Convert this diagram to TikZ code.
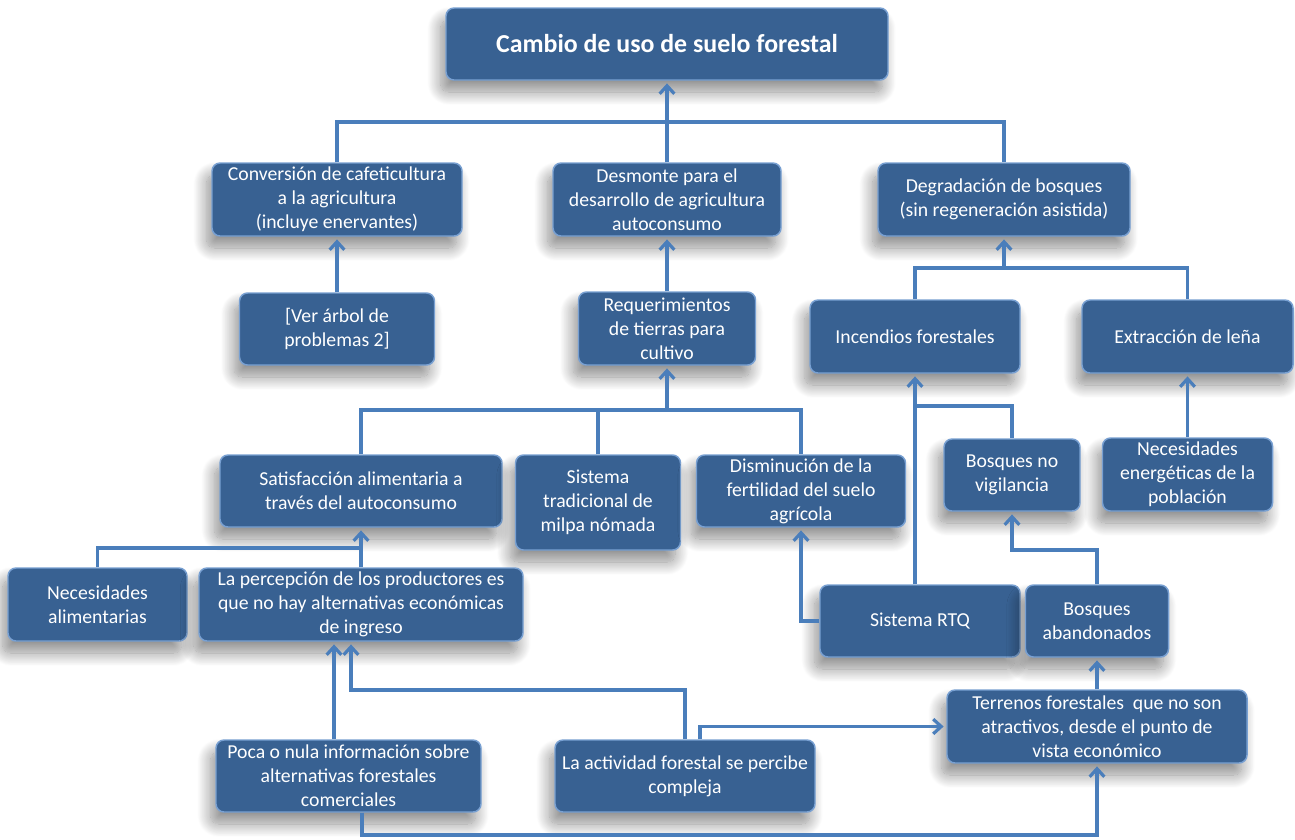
\documentclass[tikz,border=0pt]{standalone}
\usepackage{fontspec}
\setmainfont{Carlito}
\usetikzlibrary{arrows.meta,calc,shadows.blur}
\definecolor{boxblue}{RGB}{56,97,146}
\definecolor{boxedge}{RGB}{120,160,210}
\definecolor{lineblue}{RGB}{74,126,187}
\tikzset{
  box/.style={rectangle, rounded corners=6pt, fill=boxblue, draw=boxedge, line width=1.1pt,
    text=white, align=center, inner sep=1pt,
    font=\fontsize{14.8}{18}\selectfont,
    blur shadow={shadow xshift=-4pt, shadow yshift=-9pt, shadow blur radius=10pt, shadow opacity=45, shadow blur steps=20}},
  sz/.style 2 args={minimum width=#1*0.75pt, minimum height=#2*0.75pt},
  ln/.style={draw=lineblue, line width=2.4pt},
  arr/.style={ln, -{Straight Barb[length=6pt,width=11pt]}, shorten >=2pt}
}
\begin{document}
\begin{tikzpicture}[x=0.75pt,y=-0.75pt]
\useasboundingbox (0,0) rectangle (1295,839);
% nodes
\node[box,sz={442}{72},font=\bfseries\fontsize{19.4}{23}\selectfont] (title) at (667,44) {Cambio de uso de suelo forestal};
\node[box,sz={250}{73}] (conv) at (337,199.5) {Conversión de cafeticultura\\a la agricultura\\(incluye enervantes)};
\node[box,sz={228}{73}] (desm) at (667,199.5) {Desmonte para el\\desarrollo de agricultura\\autoconsumo};
\node[box,sz={252}{73}] (degr) at (1004,199.5) {Degradación de bosques\\(sin regeneración asistida)};
\node[box,sz={195}{72}] (ver) at (337,329) {[Ver árbol de\\problemas 2]};
\node[box,sz={177}{73}] (req) at (667,328.5) {Requerimientos\\de tierras para\\cultivo};
\node[box,sz={210}{73}] (inc) at (915,336.5) {Incendios forestales};
\node[box,sz={211}{73}] (ext) at (1187.5,336.5) {Extracción de leña};
\node[box,sz={282}{72}] (sat) at (361,491) {Satisfacción alimentaria a\\través del autoconsumo};
\node[box,sz={165}{95}] (mil) at (598,502.5) {Sistema\\tradicional de\\milpa nómada};
\node[box,sz={209}{72}] (dis) at (801,491) {Disminución de la\\fertilidad del suelo\\agrícola};
\node[box,sz={136}{72}] (bnv) at (1012,475) {Bosques no\\vigilancia};
\node[box,sz={170}{73}] (nen) at (1187.5,474.5) {Necesidades\\energéticas de la\\población};
\node[box,sz={179}{73}] (nal) at (97.5,604.5) {Necesidades\\alimentarias};
\node[box,sz={324}{73}] (per) at (361,604.5) {La percepción de los productores es\\que no hay alternativas económicas\\de ingreso};
\node[box,sz={200}{72}] (rtq) at (920,621) {Sistema RTQ};
\node[box,sz={143}{72}] (bab) at (1097,621) {Bosques\\abandonados};
\node[box,sz={300}{73}] (ter) at (1097,726.5) {Terrenos forestales\ \ que no son\\atractivos, desde el punto de\\vista económico};
\node[box,sz={265}{72}] (poc) at (348.5,776) {Poca o nula información sobre\\alternativas forestales\\comerciales};
\node[box,sz={260}{72}] (act) at (685,776) {La actividad forestal se percibe\\compleja};
% helper coordinates
\coordinate (bar1) at (0,122);
\coordinate (bar2) at (0,268);
\coordinate (bar3) at (0,410);
\coordinate (bar4) at (0,406);
\coordinate (bar5) at (0,550);
\coordinate (bar6) at (0,548);
\coordinate (bar7) at (0,690);
\coordinate (bar8) at (0,835);
\coordinate (xa) at (334,0);
\coordinate (xb) at (351,0);
\coordinate (xc) at (700,0);
\coordinate (xd) at (362,0);
% connectors
\draw[ln] (conv.north) -- (conv.north |- bar1) -- (degr.north |- bar1) -- (degr.north);
\draw[arr] (desm.north) -- (title.south);
\draw[arr] (ver.north) -- (conv.south);
\draw[arr] (req.north) -- (desm.south);
\draw[ln] (inc.north) -- (inc.north |- bar2) -- (ext.north |- bar2) -- (ext.north);
\draw[arr] (degr.south |- bar2) -- (degr.south);
\draw[ln] (sat.north) -- (sat.north |- bar3) -- (dis.north |- bar3) -- (dis.north);
\draw[ln] (mil.north) -- (mil.north |- bar3);
\draw[arr] (req.south |- bar3) -- (req.south);
\draw[arr] (inc.south |- rtq.north) -- (inc.south);
\draw[ln] (inc.south |- bar4) -| (bnv.north);
\draw[arr] (nen.north) -- (ext.south);
\draw[arr] (bab.north) -- (bab.north |- bar5) -- (bnv.south |- bar5) -- (bnv.south);
\draw[arr] (rtq.west) -| (dis.south);
\draw[arr] (per.north) -- (sat.south);
\draw[ln] (nal.north) |- (sat.south |- bar6);
\draw[arr] (poc.north -| xa) -- (per.south -| xa);
\draw[arr] (act.north) -- (act.north |- bar7) -- (xb |- bar7) -- (per.south -| xb);
\draw[arr] (act.north -| xc) |- (ter.west);
\draw[arr] (poc.south -| xd) -- (xd |- bar8) -| (ter.south);
\draw[arr] (ter.north) -- (bab.south);
\end{tikzpicture}
\end{document}
